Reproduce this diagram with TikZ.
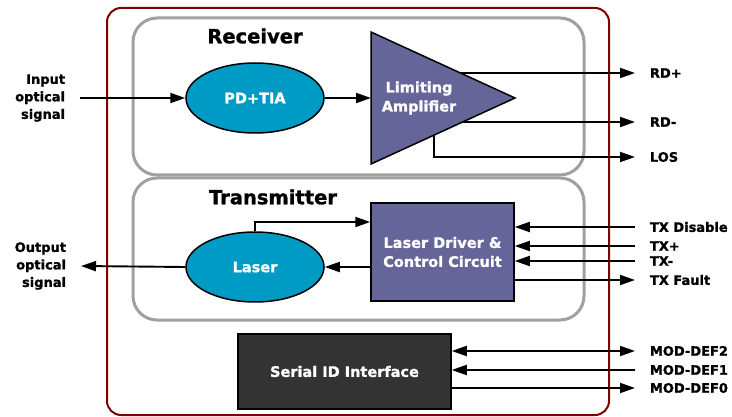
\documentclass[tikz,border=0pt]{standalone}
\usepackage{fontspec}
\setmainfont{DejaVu Sans}[BoldFeatures={FakeBold=1.2}]
\usetikzlibrary{shapes.geometric,arrows.meta,calc}
\definecolor{modred}{HTML}{800000}
\definecolor{panelgray}{HTML}{A0A0A0}
\definecolor{opticblue}{HTML}{009BC4}
\definecolor{chipblue}{HTML}{65659A}
\definecolor{iddark}{HTML}{333333}
\begin{document}
\begin{tikzpicture}[x=1pt, y=-1pt, >={Triangle[length=15pt,width=10pt]}, line width=1.9pt,
    panel/.style={draw=panelgray, line width=3pt, rounded corners=24pt},
    blocktitle/.style={font=\bfseries\fontsize{19.5}{24}\selectfont},
    optnode/.style={ellipse, draw=black, line width=1.5pt, fill=opticblue, text=white,
      minimum width=138pt, minimum height=70pt, font=\bfseries\fontsize{14.5}{19}\selectfont},
    chipbox/.style={draw=black, line width=1.5pt, fill=chipblue, text=white, align=center,
      font=\bfseries\fontsize{14.5}{19}\selectfont},
    sig/.style={font=\bfseries\fontsize{13}{17.5}\selectfont, inner xsep=14pt, inner ysep=0pt}]
  \useasboundingbox (0,0) rectangle (732,417);
  % module outline and the two sections
  \draw[modred, line width=2pt, rounded corners=14pt] (107,8) rectangle (609,415);
  \draw[panel] (133,18) rectangle (584,175);
  \draw[panel] (133,178) rectangle (584,320);
  \node[blocktitle] (rxtitle) at (255,36) {Receiver};
  \node[blocktitle] (txtitle) at (273,197) {Transmitter};

  % receiver
  \node[optnode] (pdtia) at (255,98) {PD+TIA};
  \coordinate (ampA) at (371,32);
  \coordinate (ampB) at (371,164);
  \coordinate (ampC) at (515,98);
  \draw[fill=chipblue, line width=1.5pt] (ampA) -- (ampC) -- (ampB) -- cycle;
  \node[chipbox, draw=none, fill=none] (amp) at (419,98) {Limiting\\Amplifier};
  \coordinate (rdpout) at ($(ampA)!0.621!(ampC)$);
  \coordinate (rdmout) at ($(ampB)!0.636!(ampC)$);
  \coordinate (losout) at ($(ampB)!0.4375!(ampC)$);

  \node[sig, anchor=east, align=right] (inlab) at (80,98) {Input\\optical\\signal};
  \node[sig, anchor=west] (rdp) at (635,73) {RD+};
  \node[sig, anchor=west] (rdm) at (635,122) {RD-};
  \node[sig, anchor=west] (los) at (635,157) {LOS};

  \draw[->] (inlab.east) -- (pdtia.west);
  \draw[->] (pdtia.east) -- (pdtia.east -| ampA);
  \draw[->] (rdpout) -- (rdp.west);
  \draw[->] (rdmout) -- (rdm.west);
  \draw[->] (losout) |- (los.west);

  % transmitter
  \node[optnode] (laser) at (255,267) {Laser};
  \node[chipbox, minimum width=143pt, minimum height=98pt] (drv) at (442.5,252)
    {Laser Driver \&\\Control Circuit};

  \node[sig, anchor=east, align=right] (outlab) at (81,266) {Output\\optical\\signal};
  \node[sig, anchor=west] (txdis) at (635,227) {TX Disable};
  \node[sig, anchor=west] (txp) at (635,246) {TX+};
  \node[sig, anchor=west] (txm) at (635,261) {TX-};
  \node[sig, anchor=west] (txf) at (635,280) {TX Fault};

  \draw[->] (laser.west) -- (outlab.east);
  \draw[->] (drv.west |- laser) -- (laser.east);
  \draw[->] (laser.north) |- (drv.west |- 0,222);
  \draw[->] (txdis.west) -- (drv.east |- txdis);
  \draw[->] (txp.west) -- (drv.east |- txp);
  \draw[->] (txm.west) -- (drv.east |- txm);
  \draw[->] (drv.east |- txf) -- (txf.west);

  % serial id
  \node[chipbox, fill=iddark, minimum width=213pt, minimum height=75pt] (sid) at (344.5,371.5)
    {Serial ID Interface};
  \node[sig, anchor=west] (md2) at (635,351) {MOD-DEF2};
  \node[sig, anchor=west] (md1) at (635,370) {MOD-DEF1};
  \node[sig, anchor=west] (md0) at (635,388) {MOD-DEF0};

  \draw[<->] (sid.east |- md2) -- (md2.west);
  \draw[->] (md1.west) -- (sid.east |- md1);
  \draw[->] (sid.east |- md0) -- (md0.west);
\end{tikzpicture}
\end{document}
